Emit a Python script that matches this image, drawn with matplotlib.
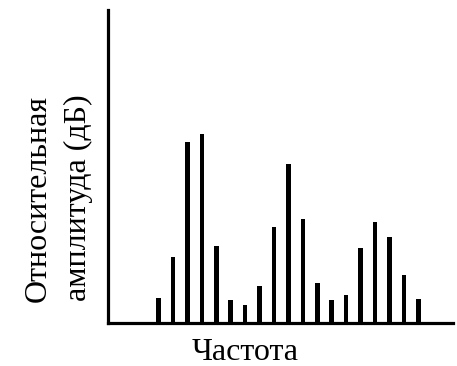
import numpy as np
import matplotlib
matplotlib.use('Agg')
import matplotlib.pyplot as plt

# line spectrum, heights (arbitrary units)
harmonics = list(range(19))
amplitude = [25, 66, 181, 189, 77, 23, 18, 37, 96, 159, 104, 40, 23, 28, 75, 101, 86, 48, 24]

plt.rcParams['font.family'] = 'Liberation Serif'

fig = plt.figure(figsize=(4.57, 3.66), dpi=100)
ax = fig.add_axes([108/457, 43/366, 345/457, 313/366])

ax.bar(harmonics, amplitude, width=0.32, color='black')

ax.set_xlim(-3.5, 20.4)
ax.set_ylim(0, 313)
for s in ['top', 'right']:
    ax.spines[s].set_visible(False)
for s in ['left', 'bottom']:
    ax.spines[s].set_linewidth(2.3)
ax.set_xticks([])
ax.set_yticks([])

fig.text(245/457, 1 - 352/366, 'Частота', fontsize=23, ha='center', va='center')
fig.text(38/457, 1 - 198/366, 'Относительная', fontsize=23, rotation=90, ha='center', va='center')
fig.text(78/457, 1 - 198/366, 'амплитуда (дБ)', fontsize=23, rotation=90, ha='center', va='center')

fig.savefig('out.png', dpi=100)
